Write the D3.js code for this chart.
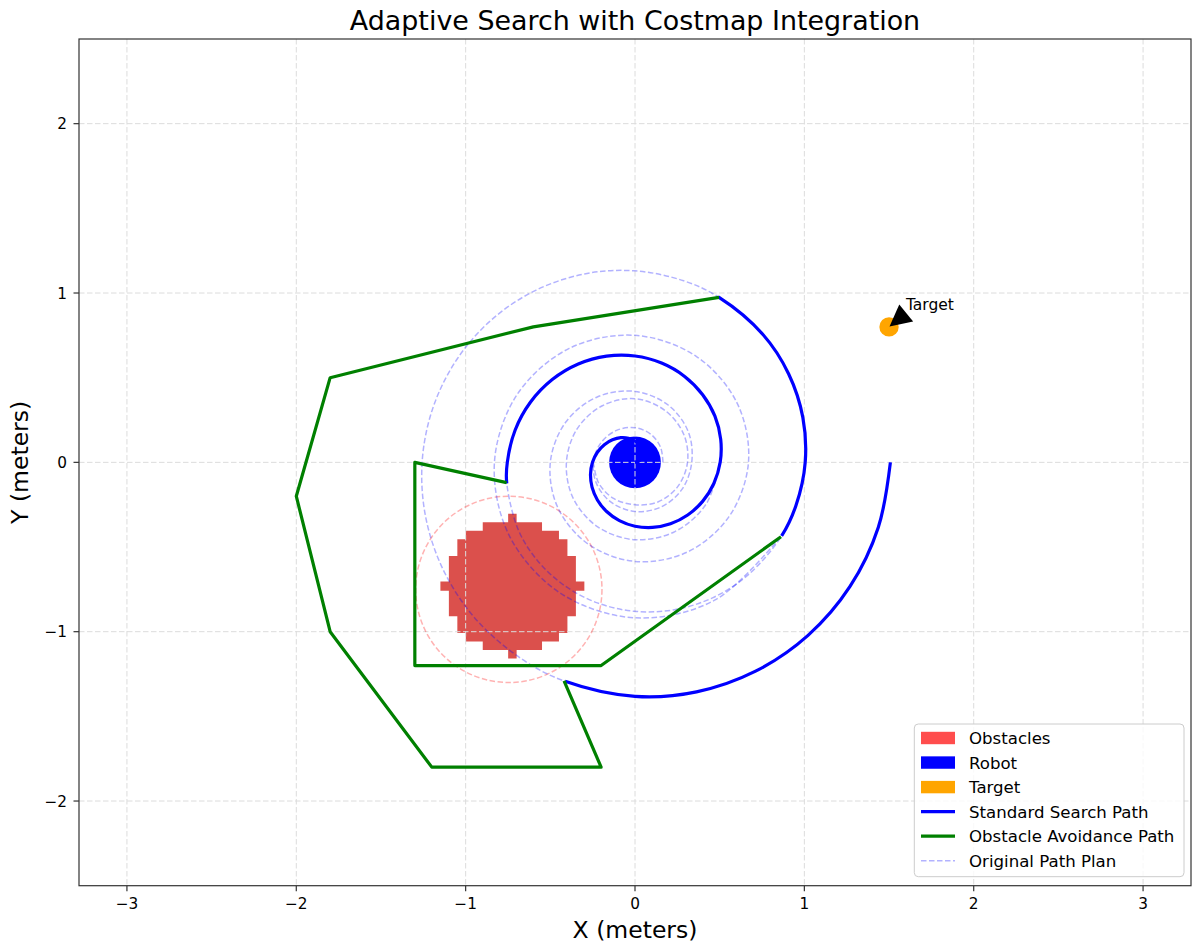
<!DOCTYPE html>
<html><head><meta charset="utf-8">
<script src="https://cdn.jsdelivr.net/npm/d3@7"></script>
<style>
body{margin:0;background:#fff;}
text{font-family:"DejaVu Sans",sans-serif;fill:#000;}
</style>
</head><body>
<svg id="chart" width="1195" height="944"></svg>
<script>
// ---------------- DATA ----------------
const xTicks = [-3,-2,-1,0,1,2,3];
const yTicks = [-2,-1,0,1,2];
const xDomain = [-3.283, 3.283];
const yDomain = [-2.5, 2.5];

// spiral search path, polar samples (angle in degrees, radius in meters)
const spiralAngleDeg = [0,15,30,45,60,75,90,105,120,135,150,165,180,195,210,225,240,255,270,285,300,315,330,345,360,375,390,405,420,435,450,465,480,495,510,525,540,549,570,585,600,615,630,645,660,675,693,705,720,735,750,765,783,795,810,825,840,855,870,885,900,915,930,945,960,972,990,1005,1020,1035,1050,1065,1080];
const spiralRadius   = [0,0.021,0.042,0.063,0.084,0.105,0.126,0.147,0.168,0.188,0.209,0.230,0.251,0.272,0.293,0.314,0.335,0.356,0.377,0.398,0.419,0.440,0.461,0.482,0.503,0.524,0.545,0.565,0.586,0.607,0.628,0.649,0.670,0.691,0.712,0.733,0.754,0.767,0.796,0.817,0.838,0.859,0.880,0.901,0.922,0.942,0.968,0.984,1.005,1.026,1.047,1.068,1.093,1.110,1.131,1.152,1.173,1.194,1.215,1.236,1.257,1.278,1.299,1.320,1.340,1.357,1.382,1.403,1.424,1.445,1.466,1.487,1.508];
// angle ranges of the spiral actually followed by the standard search path
const searchSegments = [[0,549],[693,783],[972,1080]];

// extra original plan spirals (polar samples)
const planAAngleDeg = [0,30,60,90,120,150,180,210,240,270,300,330,360,390,420,450,480,510,540,570,600,630,660,690,720,750,780,810,840,870,900,930,960,990,1020,1053];
const planARadius   = [0.165,0.175,0.19,0.205,0.218,0.232,0.246,0.26,0.275,0.29,0.305,0.32,0.335,0.363,0.391,0.419,0.446,0.473,0.50,0.528,0.556,0.585,0.613,0.641,0.67,0.697,0.723,0.75,0.777,0.803,0.83,0.859,0.889,0.918,0.94,0.965];
const planBAngleDeg = [180,210,240,270,300,330,360,390,420,450,480,510,540,570,600,630,660,690,720];
const planBRadius   = [0.246,0.247,0.248,0.25,0.27,0.29,0.31,0.332,0.354,0.376,0.386,0.395,0.405,0.422,0.44,0.457,0.472,0.487,0.50];

// obstacle avoidance paths (green)
const avoidAX = [-0.758,-1.3,-1.3,-0.2,0.862];
const avoidAY = [-0.12,0.0,-1.2,-1.2,-0.439];
const avoidBX = [0.496,-0.6,-1.8,-2.0,-1.8,-1.2,-0.2,-0.419];
const avoidBY = [0.974,0.8,0.5,-0.2,-1.0,-1.8,-1.8,-1.291];

// obstacle costmap (cells of 0.05 m, half width in cells per row, top row first)
const obstacleCenter = [-0.724, -0.731];
const obstacleCell = 0.05;
const obstacleRowHalfWidth = [0,3,5,6,6,7,7,7,8,7,7,7,6,6,5,3,0];
const inflationCenter = [-0.745, -0.75];
const inflationRadius = 0.55;

const robot = {x:0, y:0, r:0.153};
const target = {x:1.5, y:0.8, r:0.057};
const targetLabel = {text:"Target", x:1.6, y:0.9};

const legendItems = [
  {label:"Obstacles", type:"patch", color:"#ff4d4d"},
  {label:"Robot", type:"patch", color:"#0000ff"},
  {label:"Target", type:"patch", color:"#ffa500"},
  {label:"Standard Search Path", type:"line", color:"#0000ff"},
  {label:"Obstacle Avoidance Path", type:"line", color:"#008000"},
  {label:"Original Path Plan", type:"dash", color:"#0000ff"}
];

// ---------------- DRAW ----------------
const svg = d3.select("#chart");
const L=79, R=1191, T=39, B=885.7;
const x = d3.scaleLinear().domain(xDomain).range([L,R]);
const y = d3.scaleLinear().domain(yDomain).range([B,T]);
const polar = (deg, r) => [r*Math.cos(deg*Math.PI/180), r*Math.sin(deg*Math.PI/180)];
const curve = d3.line().x(d=>x(d[0])).y(d=>y(d[1])).curve(d3.curveCatmullRom.alpha(0.5));
const poly = d3.line().x(d=>x(d[0])).y(d=>y(d[1]));

svg.append("rect").attr("width",1195).attr("height",944).attr("fill","#fff");
svg.append("defs").append("clipPath").attr("id","clip")
  .append("rect").attr("x",L).attr("y",T).attr("width",R-L).attr("height",B-T);
const plot = svg.append("g").attr("clip-path","url(#clip)");

// obstacle cells: one path, a rectangle per costmap row
const nRows = obstacleRowHalfWidth.length, mid = (nRows-1)/2;
const obsPath = d3.path();
obstacleRowHalfWidth.forEach((h,i)=>{
  const x0 = x(obstacleCenter[0]-(h+0.5)*obstacleCell), x1 = x(obstacleCenter[0]+(h+0.5)*obstacleCell);
  const y0 = y(obstacleCenter[1]+(mid-i+0.5)*obstacleCell), y1 = y(obstacleCenter[1]+(mid-i-0.5)*obstacleCell);
  obsPath.rect(x0, y0-0.4, x1-x0, y1-y0+0.8);
});
plot.append("path").attr("d",obsPath.toString()).attr("fill","#db504c").attr("fill-rule","nonzero");

// robot & target (patches)
plot.append("circle").attr("cx",x(robot.x)).attr("cy",y(robot.y))
  .attr("r",x(robot.r)-x(0)).attr("fill","#0000ff");
plot.append("circle").attr("cx",x(target.x)).attr("cy",y(target.y))
  .attr("r",x(target.r)-x(0)).attr("fill","#ffa500");

// grid
const grid = plot.append("g").attr("stroke","#dcdcdc").attr("stroke-width",1).attr("stroke-dasharray","5.5,2.5");
xTicks.forEach(t=>grid.append("line").attr("x1",x(t)).attr("x2",x(t)).attr("y1",T).attr("y2",B));
yTicks.forEach(t=>grid.append("line").attr("y1",y(t)).attr("y2",y(t)).attr("x1",L).attr("x2",R));

// inflation circle
plot.append("circle").attr("cx",x(inflationCenter[0])).attr("cy",y(inflationCenter[1]))
  .attr("r",x(inflationRadius)-x(0)).attr("fill","none").attr("stroke","#ff0000")
  .attr("stroke-opacity",0.3).attr("stroke-width",1.5).attr("stroke-dasharray","5.5,2.5");

// original path plan (dashed)
const spiralPts = spiralAngleDeg.map((a,i)=>polar(a, spiralRadius[i]));
const planA = planAAngleDeg.map((a,i)=>polar(a, planARadius[i]));
const planB = planBAngleDeg.map((a,i)=>polar(a, planBRadius[i]));
const dashG = plot.append("g").attr("fill","none").attr("stroke","#0000ff").attr("stroke-opacity",0.3)
  .attr("stroke-width",1.5).attr("stroke-dasharray","5.5,2.5");
const spiralD = curve(spiralPts);
[spiralD, curve(planA), curve(planB)].forEach(d=>dashG.append("path").attr("d",d));

// standard search path (blue): the same smooth spiral, shown only over the followed ranges
const parts = spiralD.split("C");
const tmp = svg.append("path").attr("fill","none").attr("visibility","hidden");
const lenAt = k => { if(k<=0) return 0; tmp.attr("d", parts.slice(0,k+1).join("C")); return tmp.node().getTotalLength(); };
const total = lenAt(parts.length-1);
searchSegments.forEach(([a0,a1])=>{
  const L0 = lenAt(spiralAngleDeg.indexOf(a0)), L1 = lenAt(spiralAngleDeg.indexOf(a1));
  plot.append("path").attr("d",spiralD).attr("fill","none").attr("stroke","#0000ff")
    .attr("stroke-width",3.2).attr("stroke-linecap","butt")
    .attr("stroke-dasharray",`0 ${L0} ${L1-L0} ${total+50}`);
});
tmp.remove();

// obstacle avoidance path (green)
[[avoidAX,avoidAY],[avoidBX,avoidBY]].forEach(([xs,ys])=>{
  plot.append("path").attr("d",poly(xs.map((v,i)=>[v,ys[i]]))).attr("fill","none")
    .attr("stroke","#008000").attr("stroke-width",3.2).attr("stroke-linecap","butt").attr("stroke-linejoin","round");
});

// annotation
const lbl = svg.append("text").attr("x",x(targetLabel.x)).attr("y",y(targetLabel.y))
  .attr("font-size",15.5).text(targetLabel.text);
const bb = lbl.node().getBBox();
{
  const sx = bb.x, sy = bb.y+bb.height;
  const ex = x(target.x), ey = y(target.y);
  const dx = ex-sx, dy = ey-sy, len = Math.hypot(dx,dy);
  const ux = dx/len, uy = dy/len, px = -uy, py = ux;
  const s = 0.03*len;
  const tipX = ex-ux*s, tipY = ey-uy*s;
  const headL = 21.5, headW = 11;
  const bx = tipX-ux*headL, by = tipY-uy*headL;
  svg.append("path").attr("d",`M${tipX},${tipY}L${bx+px*headW},${by+py*headW}L${bx-px*headW},${by-py*headW}Z`).attr("fill","#000");
}

// spines
svg.append("rect").attr("x",L).attr("y",T).attr("width",R-L).attr("height",B-T)
  .attr("fill","none").attr("stroke","#333").attr("stroke-width",1.2);

// ticks
const fmt = v => v<0 ? "\u2212"+Math.abs(v) : String(v);
xTicks.forEach(t=>{
  svg.append("line").attr("x1",x(t)).attr("x2",x(t)).attr("y1",B).attr("y2",B+5.5).attr("stroke","#333").attr("stroke-width",1.2);
  svg.append("text").attr("x",x(t)).attr("y",B+23.5).attr("text-anchor","middle").attr("font-size",15.3).text(fmt(t));
});
yTicks.forEach(t=>{
  svg.append("line").attr("x1",L-5.5).attr("x2",L).attr("y1",y(t)).attr("y2",y(t)).attr("stroke","#333").attr("stroke-width",1.2);
  svg.append("text").attr("x",L-12).attr("y",y(t)+5.5).attr("text-anchor","end").attr("font-size",15.3).text(fmt(t));
});

// labels & title
svg.append("text").attr("x",(L+R)/2).attr("y",30).attr("text-anchor","middle").attr("font-size",26.9)
  .text("Adaptive Search with Costmap Integration");
svg.append("text").attr("x",(L+R)/2).attr("y",938).attr("text-anchor","middle").attr("font-size",23.5)
  .text("X (meters)");
svg.append("text").attr("transform",`translate(28,${(T+B)/2}) rotate(-90)`).attr("text-anchor","middle")
  .attr("font-size",23.5).text("Y (meters)");

// legend
const lg = svg.append("g");
lg.append("rect").attr("x",914.3).attr("y",724).attr("width",1184-914.3).attr("height",876.7-724)
  .attr("rx",4).attr("fill","#fff").attr("fill-opacity",0.8).attr("stroke","#cccccc").attr("stroke-width",1);
legendItems.forEach((d,i)=>{
  const cy = 738 + i*24.55;
  if(d.type==="patch"){
    lg.append("rect").attr("x",921).attr("y",cy-6.2).attr("width",34).attr("height",12.4).attr("fill",d.color);
  } else {
    const ln = lg.append("line").attr("x1",921).attr("x2",955).attr("y1",cy).attr("y2",cy).attr("stroke",d.color);
    if(d.type==="dash") ln.attr("stroke-opacity",0.3).attr("stroke-width",1.5).attr("stroke-dasharray","5.5,2.5");
    else ln.attr("stroke-width",3.2);
  }
  lg.append("text").attr("x",969).attr("y",cy+6).attr("font-size",16.6).text(d.label);
});
</script>
</body></html>
